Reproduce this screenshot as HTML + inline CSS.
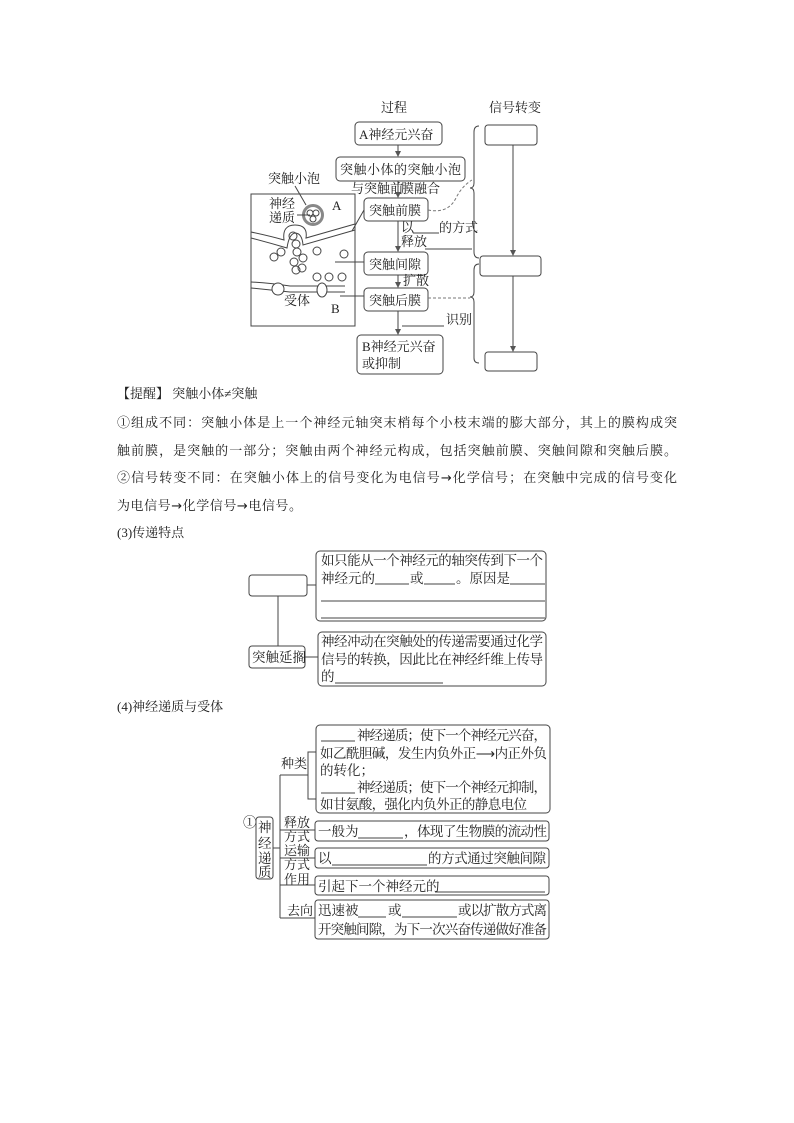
<!DOCTYPE html>
<html><head><meta charset="utf-8"><style>
html,body{margin:0;padding:0;background:#fff}
svg{display:block}
text{font-family:"Liberation Serif","Noto Serif CJK SC","Noto Sans CJK SC",serif;fill:#222;font-size:13px}
.b{fill:none;stroke:#444;stroke-width:1}
.t{font-size:13.5px}
.ar{font-family:"DejaVu Sans",sans-serif}
</style></head><body>
<svg width="794" height="1123" viewBox="0 0 794 1123" xmlns="http://www.w3.org/2000/svg">
<defs><marker id="ar" markerWidth="6" markerHeight="6" refX="5" refY="3" orient="auto"><path d="M0,0 L6,3 L0,6 z" fill="#555"/></marker></defs>
<!-- top diagram -->
<text x="381" y="112">过程</text>
<text x="489" y="112">信号转变</text>
<rect class="b" x="355" y="122" width="87" height="23" rx="4"/><text x="359" y="139" font-size="13.5">A神经元兴奋</text>
<line class="b" x1="398" y1="145" x2="398" y2="156" marker-end="url(#ar)"/>
<rect class="b" x="336" y="157" width="129" height="24" rx="4"/><text x="340" y="174" textLength="121" font-size="13.5">突触小体的突触小泡</text>
<text x="351" y="193" font-size="11.5">与突触前</text><text x="401" y="193" font-size="11.5">膜融合</text>
<line class="b" x1="398" y1="181" x2="398" y2="197" marker-end="url(#ar)"/>
<rect class="b" x="364" y="198" width="64" height="23" rx="4"/><text x="369" y="215" font-size="13.5">突触前膜</text>
<text x="401" y="232" font-size="11.5">以</text><line class="b" x1="413" y1="233" x2="439" y2="233"/><text x="439" y="232" font-size="11.5">的方式</text>
<text x="401" y="246" font-size="11.5">释放</text>
<line class="b" x1="425" y1="249" x2="472" y2="249"/>
<line class="b" x1="398" y1="221" x2="398" y2="251" marker-end="url(#ar)"/>
<rect class="b" x="364" y="252" width="64" height="23" rx="4"/><text x="369" y="269" font-size="13.5">突触间隙</text>
<text x="403" y="285" font-size="11.5">扩散</text>
<line class="b" x1="398" y1="275" x2="398" y2="287" marker-end="url(#ar)"/>
<rect class="b" x="364" y="288" width="64" height="23" rx="4"/><text x="369" y="305" font-size="13.5">突触后膜</text>
<line class="b" x1="398" y1="311" x2="398" y2="334" marker-end="url(#ar)"/>
<line class="b" x1="402" y1="326" x2="444" y2="326"/><text x="446" y="324" font-size="11.5">识别</text>
<rect class="b" x="357" y="335" width="86" height="39" rx="4" stroke-width="1.3"/><text x="362" y="351" font-size="13.5">B神经元兴奋</text><text x="362" y="368" font-size="13.5">或抑制</text>
<!-- right boxes -->
<rect class="b" x="485" y="125" width="52" height="20" rx="3"/>
<rect class="b" x="480" y="256" width="61" height="20" rx="3"/>
<rect class="b" x="485" y="352" width="52" height="19" rx="3"/>
<line class="b" x1="513" y1="145" x2="513" y2="255" marker-end="url(#ar)"/>
<line class="b" x1="513" y1="276" x2="513" y2="351" marker-end="url(#ar)"/>
<path class="b" d="M479,126 Q474,126 474,132 L474,183 Q474,188 470,188 Q474,188 474,193 L474,252 Q474,258 479,258" stroke="#888"/>
<path class="b" d="M479,264 Q474,264 474,270 L474,292 Q474,297 470,297 Q474,297 474,302 L474,358 Q474,363 479,363" stroke="#888"/>
<path d="M428,210 Q448,214 456,198 Q462,186 472,180" fill="none" stroke="#777" stroke-dasharray="3,2"/>
<line x1="428" y1="298" x2="470" y2="298" stroke="#777" stroke-dasharray="3,2"/>
<!-- cell panel -->
<text x="268" y="183">突触小泡</text>
<line class="b" x1="295" y1="186" x2="306" y2="205"/>
<rect class="b" x="251" y="194" width="104" height="132"/>
<text x="269" y="208">神经</text><text x="269" y="222">递质</text>
<text x="332" y="210" font-size="12">A</text>
<circle cx="313" cy="215" r="9.5" fill="none" stroke="#888" stroke-width="3"/>
<circle cx="310" cy="213" r="3" class="b"/><circle cx="316" cy="213" r="3" class="b"/><circle cx="313" cy="219" r="3" class="b"/>
<line class="b" x1="297" y1="215" x2="310" y2="215"/>
<path class="b" d="M251,232 Q270,236 284,240 Q282,225 295,225 Q308,225 306,238 L355,224"/>
<path class="b" d="M251,238 Q270,243 287,248 Q289,234 295,233 Q302,233 303,245 L355,230"/>
<circle cx="293" cy="236" r="4" class="b"/><circle cx="296" cy="244" r="4" class="b"/>
<line class="b" x1="352" y1="231" x2="364" y2="210"/>
<g class="b"><circle cx="274" cy="257" r="4"/><circle cx="281" cy="252" r="4"/><circle cx="297" cy="252" r="4"/><circle cx="303" cy="258" r="4"/><circle cx="294" cy="262" r="4"/><circle cx="317" cy="251" r="4"/><circle cx="344" cy="254" r="4"/><circle cx="296" cy="270" r="4"/><circle cx="302" cy="268" r="4"/><circle cx="317" cy="277" r="4"/><circle cx="329" cy="277" r="4"/><circle cx="342" cy="277" r="4"/></g>
<line class="b" x1="335" y1="262" x2="364" y2="262"/>
<path class="b" d="M251,282 Q270,283 290,286 L345,286"/>
<path class="b" d="M251,288 Q270,290 290,292 L345,292"/>
<ellipse cx="278" cy="289" rx="6" ry="6" fill="#fff" stroke="#444"/>
<ellipse cx="322" cy="290" rx="5" ry="7" fill="#fff" stroke="#444"/>
<path class="b" d="M340,296 L353,296 L364,296"/>
<text x="284" y="305">受体</text>
<text x="331" y="313" font-size="12">B</text>
<!-- text block -->
<text x="117" y="398" font-family="Liberation Sans,Noto Sans CJK SC,sans-serif" font-size="12.5">【提醒】  突触小体≠突触</text>
<text x="117" y="427" font-size="13" textLength="560">①组成不同：突触小体是上一个神经元轴突末梢每个小枝末端的膨大部分，其上的膜构成突</text>
<text x="117" y="455" font-size="13" textLength="560">触前膜，是突触的一部分；突触由两个神经元构成，包括突触前膜、突触间隙和突触后膜。</text>
<text x="117" y="482" font-size="13" textLength="560">②信号转变不同：在突触小体上的信号变化为电信号<tspan class="ar">→</tspan>化学信号；在突触中完成的信号变化</text>
<text x="117" y="510" font-size="13" textLength="185">为电信号<tspan class="ar">→</tspan>化学信号<tspan class="ar">→</tspan>电信号。</text>
<text x="117" y="537" font-size="13">(3)传递特点</text>
<!-- section 3 -->
<rect class="b" x="249" y="575" width="58" height="21" rx="3"/>
<line class="b" x1="307" y1="585" x2="316" y2="585"/>
<line class="b" x1="278" y1="596" x2="278" y2="646"/>
<rect class="b" x="316" y="551" width="230" height="70" rx="4"/>
<text x="321" y="565" class="t" textLength="222">如只能从一个神经元的轴突传到下一个</text>
<text x="321" y="583" class="t">神经元的</text><line class="b" x1="375" y1="584" x2="409" y2="584"/><text x="410" y="583" class="t">或</text><line class="b" x1="424" y1="584" x2="455" y2="584"/><text x="456" y="583" class="t">。原因是</text><line class="b" x1="510" y1="584" x2="545" y2="584"/>
<line class="b" x1="321" y1="601" x2="545" y2="601"/>
<line class="b" x1="321" y1="618" x2="545" y2="618"/>
<rect class="b" x="249" y="646" width="56" height="22" rx="3"/><text x="252" y="662" class="t">突触延搁</text>
<line class="b" x1="305" y1="657" x2="318" y2="657"/>
<rect class="b" x="318" y="632" width="228" height="54" rx="4"/>
<text x="321" y="646" class="t" textLength="222">神经冲动在突触处的传递需要通过化学</text>
<text x="321" y="664" class="t" textLength="222">信号的转换，因此比在神经纤维上传导</text>
<text x="321" y="681" class="t">的</text><line class="b" x1="335" y1="683" x2="443" y2="683"/>
<text x="117" y="711" font-size="13">(4)神经递质与受体</text>
<!-- section 4 -->
<text x="243" y="827" class="t">①</text>
<rect class="b" x="256" y="817" width="17" height="62" rx="3"/>
<text x="258" y="832" class="t">神</text><text x="258" y="848" class="t">经</text><text x="258" y="863" class="t">递</text><text x="258" y="877" class="t">质</text>
<line class="b" x1="273" y1="848" x2="280" y2="848"/>
<path class="b" d="M280,775 L280,918"/>
<line class="b" x1="280" y1="775" x2="308" y2="775"/>
<path class="b" d="M316,752 L308,752 L308,799 L316,799"/>
<text x="281" y="768" font-size="12">种类</text>
<rect class="b" x="316" y="725" width="234" height="88" rx="4"/>
<line class="b" x1="321" y1="741" x2="355" y2="741"/><text x="357" y="740" class="t" textLength="190">神经递质；使下一个神经元兴奋，</text>
<text x="320" y="758" class="t" textLength="227">如乙酰胆碱，发生内负外正⟶内正外负</text>
<text x="320" y="775" class="t">的转化；</text>
<line class="b" x1="321" y1="793" x2="355" y2="793"/><text x="357" y="792" class="t" textLength="190">神经递质；使下一个神经元抑制，</text>
<text x="320" y="809" class="t" textLength="207">如甘氨酸，强化内负外正的静息电位</text>
<text x="284" y="827" font-size="11.5">释放</text><text x="284" y="841" font-size="11.5">方式</text>
<line class="b" x1="280" y1="830" x2="315" y2="830"/>
<rect class="b" x="315" y="821" width="234" height="20" rx="3"/>
<text x="318" y="836" class="t">一般为</text><line class="b" x1="358" y1="838" x2="403" y2="838"/><text x="404" y="836" class="t" textLength="143">，体现了生物膜的流动性</text>
<text x="284" y="855" font-size="11.5">运输</text><text x="284" y="869" font-size="11.5">方式</text>
<line class="b" x1="280" y1="858" x2="315" y2="858"/>
<rect class="b" x="315" y="848" width="234" height="20" rx="3"/>
<text x="318" y="863" class="t">以</text><line class="b" x1="332" y1="865" x2="427" y2="865"/><text x="428" y="863" class="t" textLength="118">的方式通过突触间隙</text>
<text x="284" y="884" font-size="11.5">作用</text>
<line class="b" x1="280" y1="885" x2="315" y2="885"/>
<rect class="b" x="315" y="876" width="234" height="19" rx="3"/>
<text x="318" y="891" class="t">引起下一个神经元的</text><line class="b" x1="435" y1="892" x2="545" y2="892"/>
<text x="287" y="915" font-size="11.5">去向</text>
<line class="b" x1="280" y1="918" x2="315" y2="918"/>
<rect class="b" x="315" y="900" width="234" height="39" rx="3"/>
<text x="318" y="915" class="t">迅速被</text><line class="b" x1="358" y1="917" x2="386" y2="917"/><text x="388" y="915" class="t">或</text><line class="b" x1="402" y1="917" x2="457" y2="917"/><text x="458" y="915" class="t" textLength="89">或以扩散方式离</text>
<text x="318" y="934" class="t" textLength="229">开突触间隙，为下一次兴奋传递做好准备</text>
</svg>
</body></html>
